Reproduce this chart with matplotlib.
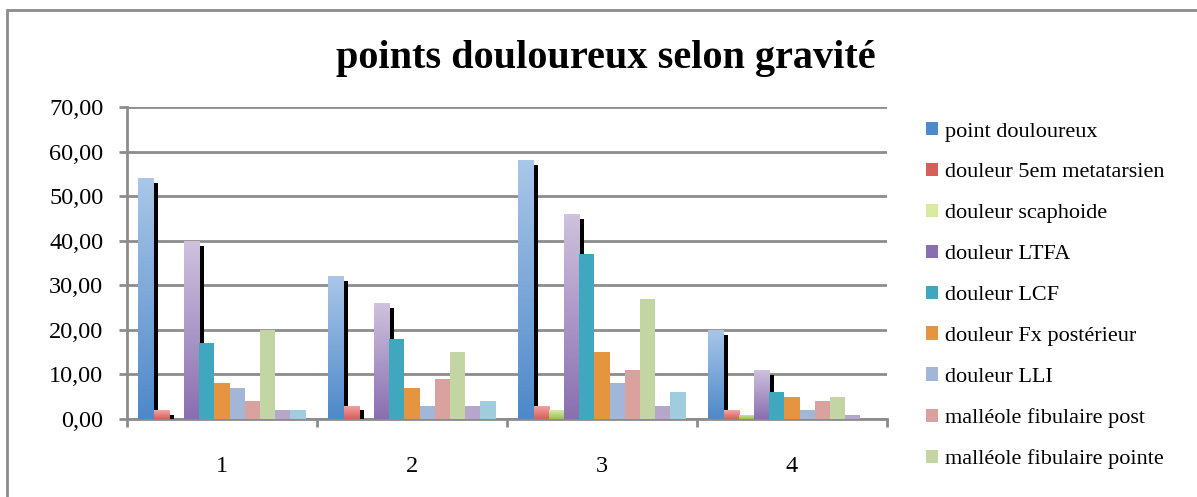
import numpy as np
import matplotlib.pyplot as plt
import matplotlib.patheffects as pe
from matplotlib.colors import LinearSegmentedColormap
from matplotlib.patches import Rectangle, Patch
from matplotlib.ticker import FuncFormatter

plt.rcParams['font.family'] = ['Liberation Serif', 'DejaVu Serif']

categories = ['1', '2', '3', '4']
series_names = [
    'point douloureux',
    'douleur 5em metatarsien',
    'douleur scaphoide',
    'douleur LTFA',
    'douleur LCF',
    'douleur Fx postérieur',
    'douleur LLI',
    'malléole fibulaire post',
    'malléole fibulaire pointe',
    '',
    '',
]
point_douloureux = [54, 32, 58, 20]
douleur_5em = [2, 3, 3, 2]
douleur_scaphoide = [0, 0, 2, 1]
douleur_ltfa = [40, 26, 46, 11]
douleur_lcf = [17, 18, 37, 6]
douleur_fx_post = [8, 7, 15, 5]
douleur_lli = [7, 3, 8, 2]
malleole_post = [4, 9, 11, 4]
malleole_pointe = [20, 15, 27, 5]
serie_10 = [2, 3, 3, 1]
serie_11 = [2, 4, 6, 0]

values = [point_douloureux, douleur_5em, douleur_scaphoide, douleur_ltfa,
          douleur_lcf, douleur_fx_post, douleur_lli, malleole_post,
          malleole_pointe, serie_10, serie_11]

# (top colour, bottom colour); same colour = flat fill
couleurs = [
    ('#A9C6E8', '#4E89CA'),
    ('#F5A6A4', '#D65F5C'),
    ('#D9EAA4', '#9DBE5A'),
    ('#CEC2DE', '#8A6FB0'),
    ('#3FA7BE', '#3FA7BE'),
    ('#E5953F', '#E5953F'),
    ('#A2B7D8', '#A2B7D8'),
    ('#DAA29F', '#DAA29F'),
    ('#C3D5A3', '#C3D5A3'),
    ('#B6A7CA', '#B6A7CA'),
    ('#9FCDDE', '#9FCDDE'),
]
avec_ombre = [0, 1, 3]

fig = plt.figure(figsize=(11.97, 4.97), dpi=100)
ax = fig.add_axes([127/1197, 1 - 419/497, 760/1197, 312/497])

x = np.arange(len(categories))
n = len(values)
w = 0.08
grad = np.linspace(1, 0, 64).reshape(-1, 1)

for j, (vals, (c_top, c_bot)) in enumerate(zip(values, couleurs)):
    z = 3 + j * 0.1
    pos = x - n * w / 2 + w / 2 + j * w
    bars = ax.bar(pos, vals, width=w, color=c_bot, linewidth=0, zorder=z)
    if j in avec_ombre:
        for b in bars:
            b.set_path_effects([pe.SimplePatchShadow(offset=(3.5, -3.5), shadow_rgbFace='black', alpha=1.0),
                                pe.Normal()])
    if c_top != c_bot:
        cmap = LinearSegmentedColormap.from_list('g%d' % j, [c_bot, c_top])
        for b, v in zip(bars, vals):
            if v <= 0:
                continue
            im = ax.imshow(grad, cmap=cmap, aspect='auto', zorder=z + 0.05,
                           extent=[b.get_x(), b.get_x() + w, 0, v], vmin=0, vmax=1)
            im.set_clip_path(b)

ax.set_xlim(-0.5, 3.5)
ax.set_ylim(0, 70)
ax.set_yticks(np.arange(0, 71, 10))
ax.yaxis.set_major_formatter(FuncFormatter(lambda v, p: ('%.2f' % v).replace('.', ',')))
ax.set_xticks(x)
ax.set_xticklabels(categories)
ax.set_xticks(np.arange(-0.5, 3.6, 1), minor=True)
ax.tick_params(axis='x', which='major', length=0, pad=27, labelsize=17.5)
ax.tick_params(axis='x', which='minor', length=6, width=2, color='#8c8c8c', direction='out')
ax.tick_params(axis='y', length=6, width=2, color='#8c8c8c', pad=11, labelsize=17.5)
ax.grid(axis='y', color='#8c8c8c', linewidth=2, zorder=1)
ax.set_axisbelow(True)
for s in ['top', 'right']:
    ax.spines[s].set_visible(False)
for s in ['left', 'bottom']:
    ax.spines[s].set_color('#8c8c8c')
    ax.spines[s].set_linewidth(2)

fig.text(0.506, 0.883, 'points douloureux selon gravité', ha='center', va='center',
         fontsize=29, fontweight='bold')

handles = [Patch(facecolor=couleurs[j][1] if j in avec_ombre else couleurs[j][0], label=series_names[j])
           for j in range(9)]
fig.legend(handles=handles, loc='upper left', bbox_to_anchor=(926/1197, 1 - 122/497),
           frameon=False, fontsize=16, labelspacing=0.96, handlelength=0.55,
           handleheight=0.55, handletextpad=0.3, borderpad=0, borderaxespad=0)

fig.add_artist(Rectangle((7/1197, -0.1), 1.2, 1.1 - 10/497, transform=fig.transFigure,
                         fill=False, edgecolor='#8c8c8c', linewidth=2))

fig.savefig('out.png', dpi=100)
